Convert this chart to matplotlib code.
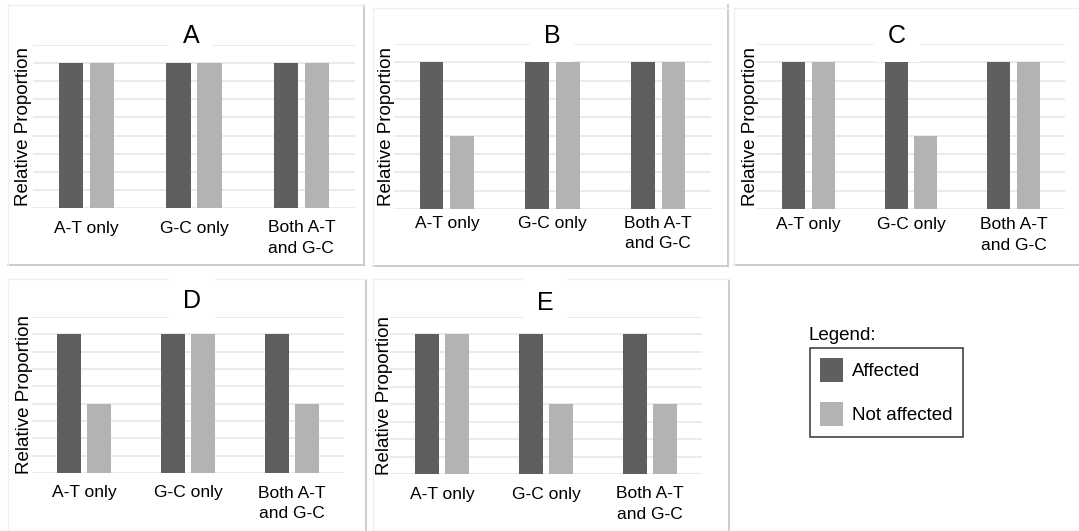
import matplotlib
matplotlib.use("Agg")
import matplotlib.pyplot as plt
from matplotlib.lines import Line2D

plt.rcParams['font.family'] = ['Liberation Sans', 'DejaVu Sans']

W, H = 1079, 531

categories = ["A-T only", "G-C only", "Both A-T\nand G-C"]
panel_names = ["A", "B", "C", "D", "E"]
affected = {
    "A": [8, 8, 8],
    "B": [8, 8, 8],
    "C": [8, 8, 8],
    "D": [8, 8, 8],
    "E": [8, 8, 8],
}
not_affected = {
    "A": [8, 8, 8],
    "B": [4, 8, 8],
    "C": [8, 4, 8],
    "D": [4, 8, 4],
    "E": [8, 4, 4],
}
series_labels = ["Affected", "Not affected"]

DARK = "#5f5f5f"
LIGHT = "#b3b3b3"
GRID = "#e6e6e6"

# pixel layout: plot x0, x1, top gridline y, baseline y, ylabel right edge x,
# title x, title baseline y, tick pad (pt)
layout = {
    "A": (33, 355, 45, 208, 32, 191, 43, 9),
    "B": (394, 711, 44, 209, 395, 552, 43, 5),
    "C": (757, 1065, 44, 209, 759, 897, 43, 6),
    "D": (32, 344, 317, 473, 33, 192, 308, 9),
    "E": (390, 702, 317, 474, 393, 545, 310, 9),
}

fig = plt.figure(figsize=(W / 100, H / 100), dpi=100)


def fx(x):
    return x / W


def fy(y):
    return 1 - y / H


for name in panel_names:
    x0, x1, yt, yb, xl, tx, ty, pad = layout[name]
    ax = fig.add_axes([fx(x0), fy(yb), (x1 - x0) / W, (yb - yt) / H])
    pos = list(range(len(categories)))
    bars_a = ax.bar([p - 0.145 for p in pos], affected[name], width=0.225,
                    color=DARK, zorder=3, label=series_labels[0])
    bars_n = ax.bar([p + 0.145 for p in pos], not_affected[name], width=0.225,
                    color=LIGHT, zorder=3, label=series_labels[1])
    ax.set_xlim(-0.5, 2.5)
    ax.set_ylim(0, 9)
    ax.set_yticks(range(10))
    ax.yaxis.grid(True, color=GRID, linewidth=1.2, zorder=0)
    ax.set_yticklabels([])
    ax.tick_params(axis="y", length=0)
    ax.set_xticks(pos)
    ax.set_xticklabels(categories, fontsize=12.5, linespacing=1.45)
    ax.tick_params(axis="x", length=0, pad=pad)
    for s in ax.spines.values():
        s.set_visible(False)
    ax.set_ylabel("Relative Proportion", fontsize=13.5)
    ax.yaxis.set_label_coords((xl - x0) / (x1 - x0), 0.5)
    fig.text(fx(tx), fy(ty), name, fontsize=18, ha="center", va="baseline",
             bbox=dict(facecolor="white", edgecolor="none",
                       boxstyle="square,pad=0.55"), zorder=5)

# legend panel
fig.text(fx(808), fy(340), "Legend:", fontsize=13.5, ha="left", va="baseline")
leg = fig.legend(handles=[bars_a, bars_n], labels=series_labels,
                 loc="upper left", bbox_to_anchor=(fx(810), fy(348)),
                 fontsize=13.5, frameon=True, fancybox=False,
                 edgecolor="black", handlelength=1.23, handleheight=1.6,
                 handletextpad=0.45, labelspacing=1.05, borderpad=0.55,
                 borderaxespad=0)
leg.get_frame().set_linewidth(1.1)

# panel borders
dark_lines = [
    ((364, 364), (5, 265)), ((8, 364), (265, 265)),
    ((728, 728), (5, 266)), ((373, 728), (266, 266)),
    ((734, 1079), (265, 265)),
    ((366, 366), (280, 531)),
    ((729, 729), (280, 531)),
]
faint_lines = [
    ((8, 364), (5, 5)), ((8, 8), (5, 265)),
    ((373, 373), (8, 266)), ((373, 728), (8, 8)),
    ((734, 734), (8, 265)), ((734, 1079), (8, 8)),
    ((8, 366), (279, 279)), ((8, 8), (279, 531)),
    ((373, 729), (279, 279)), ((373, 373), (279, 531)),
]
for xs, ys in dark_lines:
    fig.add_artist(Line2D([fx(v) for v in xs], [fy(v) for v in ys],
                          color="#c4c4c4", linewidth=1.2))
for xs, ys in faint_lines:
    fig.add_artist(Line2D([fx(v) for v in xs], [fy(v) for v in ys],
                          color="#f0f0f0", linewidth=1.0))

fig.savefig("out.png", dpi=100, facecolor="white")
